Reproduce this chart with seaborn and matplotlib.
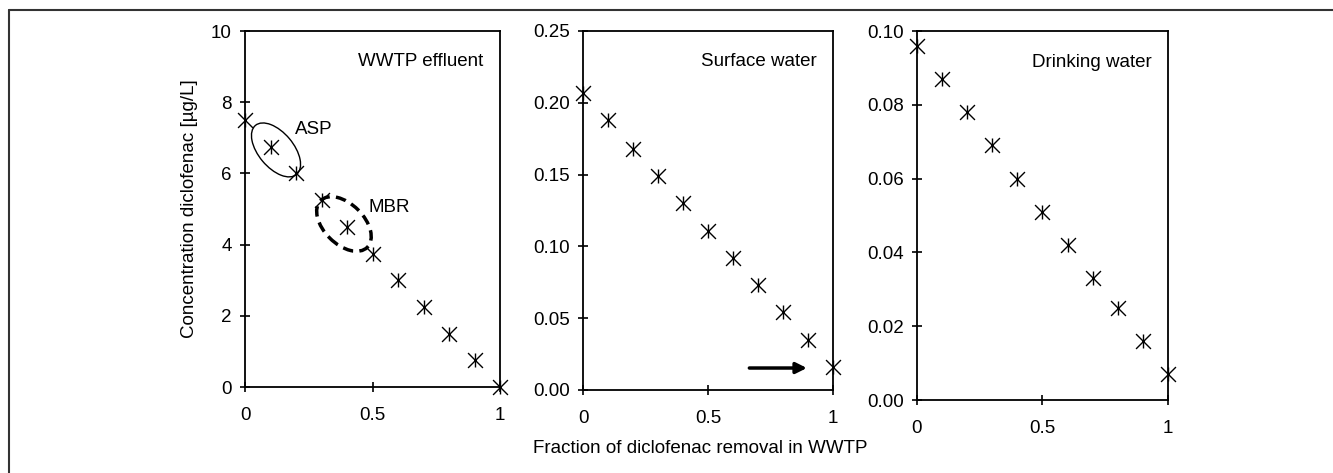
import numpy as np
import pandas as pd
import matplotlib
matplotlib.use("Agg")
import matplotlib.pyplot as plt
import matplotlib.transforms as mtransforms
from matplotlib.patches import Ellipse
from matplotlib.lines import Line2D
import seaborn as sns

# %% data
removal = [0.0, 0.1, 0.2, 0.3, 0.4, 0.5, 0.6, 0.7, 0.8, 0.9, 1.0]
effluent = [7.5, 6.75, 6.0, 5.25, 4.5, 3.75, 3.0, 2.25, 1.5, 0.75, 0.0]
surface = [0.207, 0.188, 0.168, 0.149, 0.130, 0.111, 0.092, 0.073, 0.054, 0.035, 0.016]
drinking = [0.096, 0.087, 0.078, 0.069, 0.060, 0.051, 0.042, 0.033, 0.025, 0.016, 0.007]

panel_titles = ['WWTP effluent', 'Surface water', 'Drinking water']
y_limits = [(0, 10), (0, 0.25), (0, 0.10)]
y_ticks = [[0, 2, 4, 6, 8, 10],
           [0, 0.05, 0.10, 0.15, 0.20, 0.25],
           [0, 0.02, 0.04, 0.06, 0.08, 0.10]]
y_fmt = ['{:.0f}', '{:.2f}', '{:.2f}']
x_ticks = [0, 0.5, 1]
x_ticklabels = ['0', '0.5', '1']

df = pd.DataFrame({'removal': removal * 3,
                   'conc': effluent + surface + drinking,
                   'panel': np.repeat(panel_titles, len(removal))})

# %% style
sns.set_style('ticks')
plt.rcParams['font.family'] = ['Liberation Sans', 'DejaVu Sans']
plt.rcParams['text.color'] = 'black'
plt.rcParams['axes.labelcolor'] = 'black'
fs = 13.5

fig = plt.figure(figsize=(13.33, 4.73), dpi=100)
positions = [[0.1838, 0.1818, 0.1913, 0.7526],
             [0.4374, 0.1755, 0.1876, 0.7590],
             [0.6879, 0.1543, 0.1883, 0.7800]]
axs = [fig.add_axes(p) for p in positions]

for i, ax in enumerate(axs):
    sub = df[df['panel'] == panel_titles[i]]
    sns.scatterplot(data=sub, x='removal', y='conc', ax=ax, marker='x',
                    s=115, color='black', linewidth=1.0, zorder=3, clip_on=False)
    sns.scatterplot(data=sub, x='removal', y='conc', ax=ax, marker='|',
                    s=95, color='black', linewidth=1.0, zorder=3, clip_on=False)
    ax.set_xlim(0, 1)
    ax.set_ylim(*y_limits[i])
    ax.set_xticks(x_ticks)
    ax.set_xticklabels(x_ticklabels)
    ax.set_yticks(y_ticks[i])
    ax.set_yticklabels([y_fmt[i].format(v) for v in y_ticks[i]])
    ax.tick_params(direction='inout', length=7, width=1.2, colors='black',
                   labelsize=fs)
    ax.tick_params(axis='x', pad=11)
    ax.tick_params(axis='y', pad=6)
    for sp in ax.spines.values():
        sp.set_linewidth(1.3)
        sp.set_color('black')
    ax.set_xlabel('')
    ax.set_ylabel('')
    ax.text(0.935, 0.915, panel_titles[i], transform=ax.transAxes,
            ha='right', va='center', fontsize=fs)

axs[0].set_ylabel('Concentration diclofenac [µg/L]', fontsize=fs, labelpad=9)

# ellipses around ASP / MBR points (sizes in inches, centred in data coords)
ax = axs[0]
asp = Ellipse((0, 0), 0.64, 0.35, angle=-50, fill=False, lw=1.0, ec='black',
              transform=fig.dpi_scale_trans + mtransforms.ScaledTranslation(0.1216, 6.66, ax.transData))
mbr = Ellipse((0, 0), 0.66, 0.40, angle=-45, fill=False, lw=2.5, ec='black',
              linestyle=(0, (3, 1.8)),
              transform=fig.dpi_scale_trans + mtransforms.ScaledTranslation(0.388, 4.58, ax.transData))
ax.add_patch(asp)
ax.add_patch(mbr)
ax.text(0.196, 7.22, 'ASP', ha='left', va='center', fontsize=fs)
ax.text(0.486, 5.03, 'MBR', ha='left', va='center', fontsize=fs)

# arrow in surface water panel
axs[1].annotate('', xy=(0.895, 0.0153), xytext=(0.665, 0.0153),
                arrowprops=dict(arrowstyle='-|>', lw=2.5, color='black',
                                mutation_scale=16, shrinkA=0, shrinkB=0))

fig.text(0.525, 0.052, 'Fraction of diclofenac removal in WWTP',
         ha='center', va='center', fontsize=fs)

# outer frame (top and left only)
fig.add_artist(Line2D([9 / 1333, 1], [1 - 10 / 473, 1 - 10 / 473],
                      transform=fig.transFigure, color='#333333', lw=1.5))
fig.add_artist(Line2D([9 / 1333, 9 / 1333], [0, 1 - 10 / 473],
                      transform=fig.transFigure, color='#333333', lw=1.5))

fig.savefig('out.png', dpi=100)
